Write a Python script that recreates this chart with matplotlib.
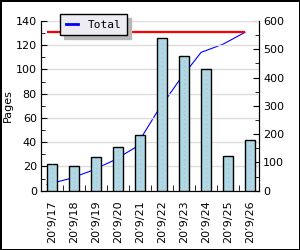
import matplotlib.pyplot as plt
import numpy as np
from matplotlib.lines import Line2D
from matplotlib.ticker import MultipleLocator

days = ["20’9/17", "20’9/18", "20’9/19", "20’9/20", "20’9/21",
        "20’9/22", "20’9/23", "20’9/24", "20’9/25", "20’9/26"]
pages = [22, 20, 28, 36, 46, 126, 111, 100, 29, 42]
total = [22, 42, 70, 106, 152, 278, 389, 489, 518, 560]

plt.rcParams['font.family'] = 'DejaVu Sans'
plt.rcParams['font.size'] = 8

fig = plt.figure(figsize=(3.0, 2.5), dpi=100)
fig.patch.set_edgecolor('black')
fig.patch.set_linewidth(2)
ax = fig.add_axes([41 / 300, 1 - 190.7 / 250, 218 / 300, 169.7 / 250])
ax2 = ax.twinx()
ax.set_zorder(ax2.get_zorder() + 1)
ax.patch.set_visible(False)

x = np.arange(len(days))
bw = 0.45

# cumulative line sits behind the bars, points at the bars' left edges
xl = x - bw / 2
ax2.plot(xl, total, color='#0000ff', lw=0.8)
ax2.hlines(total[-1], xl[0], xl[-1], color='#ff0000', lw=1.6)

ax.bar(x, pages, width=bw, color='#add8e6', edgecolor='black', lw=1, zorder=3)
ax.vlines(x, 0, pages, colors='#e8a6a6', linestyles=(0, (1, 3)), lw=0.8, zorder=4)

ax.set_xlim(-0.5, 9.41)
ax.set_ylim(0, 140)
ax2.set_ylim(0, 600)

ax.yaxis.set_major_locator(MultipleLocator(20))
ax.yaxis.set_minor_locator(MultipleLocator(10))
ax2.yaxis.set_major_locator(MultipleLocator(100))
ax2.yaxis.set_minor_locator(MultipleLocator(50))
ax.set_xticks(x)
ax.set_xticklabels(days, rotation=90)
ax.set_xticks(x[:-1] + 0.5, minor=True)

ax.tick_params(axis='x', which='major', length=0, pad=7)
ax.tick_params(axis='x', which='minor', direction='in', length=4)
ax.tick_params(axis='y', which='major', direction='in', length=4, pad=3)
ax.tick_params(axis='y', which='minor', direction='in', length=3)
ax2.tick_params(axis='y', which='major', direction='in', length=4, pad=3)
ax2.tick_params(axis='y', which='minor', direction='in', length=3)

ax.yaxis.grid(True, color='#dddddd', lw=1)
ax.set_axisbelow(True)
for a in (ax, ax2):
    a.spines['top'].set_visible(False)

ax.set_ylabel('Pages')
ax.yaxis.set_label_coords(-0.128, 0.5)

handle = Line2D([], [], color='#0000ff', lw=2)
leg = ax.legend([handle], ['Total'], loc='upper left',
                bbox_to_anchor=(60 / 300, 1 - 14 / 250), bbox_transform=fig.transFigure,
                fancybox=False, shadow={'color': '#b8b8b8', 'alpha': 1, 'ox': 3, 'oy': -3},
                framealpha=1, edgecolor='black', facecolor='#ececf2', handlelength=1.1,
                borderpad=0.5, handletextpad=0.9, borderaxespad=0,
                prop={'family': 'DejaVu Sans Mono', 'size': 8})
leg.get_frame().set_linewidth(1)

fig.savefig('out.png', dpi=100)
